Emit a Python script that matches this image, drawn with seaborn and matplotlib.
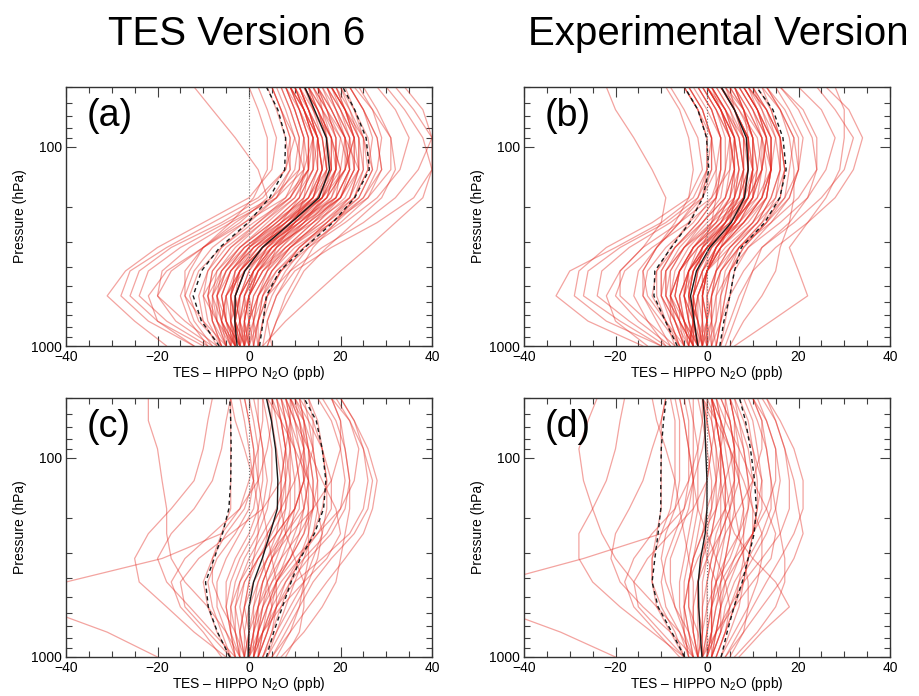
import numpy as np
import pandas as pd
import matplotlib
matplotlib.use("Agg")
import matplotlib.pyplot as plt
import matplotlib.ticker as mticker
import seaborn as sns

sns.set_style("ticks")
plt.rcParams['font.family'] = ['Liberation Sans', 'DejaVu Sans']
plt.rcParams['mathtext.fontset'] = 'custom'
plt.rcParams['mathtext.rm'] = 'Liberation Sans'
plt.rcParams['text.color'] = 'black'
plt.rcParams['axes.labelcolor'] = 'black'
plt.rcParams['xtick.labelcolor'] = 'black'
plt.rcParams['ytick.labelcolor'] = 'black'

# pressure levels (hPa), bottom to top
pressure = [1000, 750, 560, 420, 320, 240, 180, 130, 90, 65, 50]

# panel (a): TES V6, all profiles
mean_a = [-2.6, -3.1, -3.0, -0.9, 2.9, 9.2, 15.3, 17.6, 16.9, 14.3, 12.2]
lo_a = [-6.5, -10.4, -12.2, -10.4, -6.4, -0.2, 4.5, 7.8, 8.0, 6.3, 3.8]
hi_a = [2.3, 3.1, 3.8, 6.7, 12.2, 18.3, 23.1, 26.3, 25.6, 23.1, 20.5]
profiles_a = [
    [-2, -3, -2, 0, 4, 10, 16, 18, 17, 15, 13],
    [2, 3, 5, 8, 12, 18, 24, 27, 26, 23, 20],
    [-7, -10, -11, -9, -6, 0, 6, 9, 8, 6, 4],
    [0, 0, 1, 4, 6, 10, 12, 13, 12, 10, 8],
    [-5, -7, -7, -4, 1, 10, 19, 22, 22, 19, 17],
    [4, 6, 9, 12, 17, 23, 29, 32, 31, 28, 25],
    [-9, -13, -15, -13, -10, -4, 1, 4, 4, 2, 0],
    [-12, -22, -28, -26, -18, -8, 2, 8, 10, 8, 6],
    [-18, -25, -31, -27, -20, -10, 0, 5, 6, 4, 2],
    [5, 4, 6, 10, 18, 28, 36, 40, 38, 34, 30],
    [1, 2, 4, 9, 16, 25, 32, 37, 40, 36, 32],
    [-4, -6, -5, -1, 5, 14, 22, 24, 21, 17, 14],
    [-1, -1, 0, 3, 8, 14, 19, 20, 18, 15, 12],
    [-3, -5, -6, -4, 0, 6, 12, 15, 14, 12, 10],
    [-6, -9, -10, -7, -2, 5, 11, 14, 14, 11, 9],
    [0, 1, 2, 5, 9, 15, 20, 22, 21, 19, 17],
    [-2, -2, -1, 2, 7, 13, 18, 21, 23, 21, 18],
    [-5, -8, -9, -6, -1, 7, 15, 19, 20, 17, 14],
    [3, 4, 6, 9, 13, 19, 25, 28, 29, 27, 24],
    [-8, -12, -14, -12, -8, -1, 6, 10, 11, 9, 7],
    [-1, -3, -4, -2, 3, 11, 18, 20, 18, 14, 11],
    [-4, -4, -2, 1, 5, 11, 17, 21, 21, 18, 16],
    [1, 0, -1, 1, 4, 9, 14, 16, 15, 12, 9],
    [-7, -14, -20, -19, -13, -4, 6, 12, 14, 12, 9],
    [-3, -7, -10, -9, -5, 2, 9, 13, 13, 11, 8],
    [2, 2, 3, 6, 11, 17, 22, 24, 23, 20, 18],
    [-2, -4, -5, -3, 2, 9, 16, 20, 21, 18, 15],
    [-5, -10, -14, -14, -10, -3, 5, 9, 9, 7, 5],
    [0, -1, 0, 3, 9, 17, 24, 27, 25, 21, 18],
    [-3, -3, -2, 0, 3, 7, 11, 12, 10, 7, 5],
    [-9, -18, -24, -22, -15, -5, 5, 11, 12, 10, 8],
    [4, 6, 8, 11, 14, 19, 23, 25, 24, 22, 20],
    [-1, 1, 3, 7, 13, 21, 28, 33, 35, 32, 28],
    [-6, -8, -8, -5, 0, 8, 16, 21, 23, 21, 19],
    [-2, -5, -7, -6, -2, 5, 13, 17, 16, 13, 10],
    [-4, -2, 0, 3, 7, 12, 16, 17, 16, 14, 13],
    [-12, -20, -22, -18, -10, -2, 4, 2, -3, -8, -12],
    [3, 8, 14, 20, 26, 32, 38, 40, 40, 38, 34],
    [-1, 0, 2, 6, 12, 20, 26, 29, 28, 25, 22],
    [-3, -6, -8, -7, -3, 3, 10, 14, 15, 13, 11],
    [-1, -2, -2, 1, 5, 11, 17, 19, 18, 16, 14],
    [-3, -4, -4, -2, 2, 8, 14, 17, 16, 13, 11],
    [0, -1, -1, 1, 5, 12, 19, 22, 21, 18, 15],
    [-4, -6, -7, -5, -1, 6, 13, 16, 15, 12, 9],
    [-2, -1, 0, 2, 6, 12, 17, 19, 19, 17, 15],
    [1, 1, 2, 4, 8, 14, 20, 23, 23, 21, 19],
    [-5, -7, -8, -6, -2, 4, 10, 13, 13, 11, 9],
    [-1, -3, -3, -1, 3, 9, 15, 18, 17, 14, 12],
    [-3, -5, -5, -2, 3, 11, 19, 22, 20, 16, 13],
    [2, 1, 0, 1, 4, 10, 16, 19, 19, 17, 15],
    [-6, -8, -9, -8, -4, 3, 9, 12, 12, 10, 8],
    [-2, -3, -2, 1, 6, 13, 20, 23, 22, 19, 16],
    [0, 0, 0, 2, 5, 10, 15, 17, 17, 16, 15],
    [-4, -7, -9, -8, -4, 2, 8, 11, 11, 9, 7],
    [-1, -2, -1, 2, 8, 16, 23, 26, 25, 22, 19],
    [-3, -4, -3, -1, 3, 8, 13, 15, 15, 13, 11],
    [1, 2, 3, 5, 9, 16, 22, 25, 25, 23, 21],
    [-2, -5, -6, -4, 1, 8, 14, 16, 15, 13, 11],
    [-5, -6, -5, -2, 3, 10, 17, 21, 22, 20, 17],
    [-2, -2, -3, -2, 1, 7, 13, 16, 17, 15, 13],
    [-8, -16, -20, -17, -10, -1, 8, 13, 14, 12, 10],
    [0, 2, 4, 7, 11, 17, 23, 26, 27, 25, 22],
    [-3, -3, -4, -3, 0, 5, 11, 14, 14, 12, 10],
    [-1, 0, 1, 4, 9, 15, 21, 24, 24, 21, 18],
    [-4, -5, -6, -4, 0, 7, 14, 18, 18, 15, 12],
    [-2, -4, -4, -2, 2, 9, 16, 19, 19, 16, 13],
    [2, 3, 4, 7, 11, 18, 25, 29, 28, 25, 22],
    [-6, -11, -13, -11, -6, 1, 9, 13, 13, 11, 9],
    [-1, -1, 0, 2, 6, 13, 20, 23, 23, 20, 17],
    [-3, -6, -7, -5, -1, 6, 12, 15, 15, 13, 11],
    [-10, -20, -26, -24, -17, -6, 3, 8, 9, 7, 5],
    [-2, 0, 2, 5, 10, 18, 26, 31, 31, 27, 23],
    [-4, -3, -3, -1, 3, 9, 14, 16, 15, 12, 10],
    [0, -2, -3, -1, 4, 12, 20, 24, 24, 21, 18],
    [-2, -3, -4, -3, 1, 8, 15, 18, 18, 15, 12],
]

# panel (b): experimental version, all profiles
mean_b = [-2.0, -2.8, -3.6, -2.3, 0.6, 5.3, 8.2, 9.0, 8.6, 6.0, 3.1]
lo_b = [-6.5, -9.1, -11.6, -11.4, -7.8, -3.8, -0.9, 0.4, -0.1, -2.0, -4.9]
hi_b = [2.8, 3.7, 5.0, 6.0, 7.5, 12.6, 15.9, 17.3, 16.6, 14.4, 10.8]
profiles_b = [
    [-2, -3, -3, -2, 1, 6, 9, 10, 9, 6, 3],
    [2, 3, 4, 5, 8, 13, 16, 17, 16, 14, 11],
    [-7, -9, -11, -11, -8, -4, -1, 0, 0, -2, -5],
    [0, 1, 1, 2, 3, 5, 6, 6, 5, 2, -1],
    [-5, -7, -8, -6, -2, 5, 11, 14, 14, 11, 8],
    [4, 6, 8, 10, 12, 18, 22, 24, 23, 20, 16],
    [-9, -13, -16, -15, -11, -7, -4, -3, -4, -6, -9],
    [-14, -26, -33, -30, -20, -10, -3, 0, 1, -1, -4],
    [-10, -22, -29, -28, -22, -12, -4, -1, -2, -5, -8],
    [3, 5, 7, 10, 15, 22, 28, 32, 34, 31, 26],
    [1, 3, 5, 8, 12, 19, 25, 30, 32, 28, 24],
    [-3, -5, -6, -4, 0, 8, 13, 14, 12, 8, 4],
    [-1, -1, -1, 0, 3, 7, 10, 11, 10, 8, 5],
    [-4, -5, -7, -6, -3, 2, 5, 6, 5, 3, 0],
    [-6, -9, -12, -11, -7, -1, 4, 6, 6, 3, 0],
    [0, 0, 0, 2, 5, 10, 13, 14, 13, 11, 8],
    [-2, -3, -2, 0, 3, 8, 12, 14, 15, 12, 9],
    [-5, -7, -10, -9, -5, 2, 8, 11, 12, 9, 6],
    [3, 4, 5, 6, 9, 14, 18, 20, 21, 18, 15],
    [-8, -11, -14, -14, -11, -6, -1, 1, 1, -1, -4],
    [-1, -2, -4, -3, 0, 6, 10, 10, 8, 4, 0],
    [-4, -3, -3, -1, 2, 6, 10, 12, 12, 10, 7],
    [1, 0, -1, -1, 1, 4, 6, 7, 6, 3, 0],
    [-7, -13, -19, -19, -14, -6, 1, 5, 6, 4, 1],
    [-3, -6, -9, -9, -6, -1, 4, 6, 5, 2, -1],
    [2, 3, 4, 5, 7, 12, 15, 16, 15, 13, 10],
    [-2, -4, -5, -4, -1, 4, 9, 12, 13, 10, 7],
    [-5, -9, -13, -14, -11, -6, -2, 0, 0, -2, -5],
    [0, 0, -1, 0, 4, 10, 15, 17, 16, 13, 9],
    [-3, -3, -3, -2, -1, 1, 2, 2, 1, -2, -5],
    [-9, -17, -24, -23, -17, -8, -1, 2, 3, 1, -2],
    [5, 8, 12, 15, 16, 18, 19, 19, 18, 16, 13],
    [-1, 1, 2, 5, 9, 16, 22, 26, 28, 25, 20],
    [-6, -8, -8, -6, -3, 3, 9, 12, 13, 11, 9],
    [-2, -5, -8, -8, -5, 0, 6, 8, 7, 4, 1],
    [-4, -3, -2, 0, 2, 6, 8, 9, 8, 6, 5],
    [-13, -20, -22, -19, -14, -10, -9, -12, -16, -20, -22],
    [6, 14, 22, 20, 18, 22, 26, 29, 30, 30, 28],
    [-1, 0, 1, 3, 7, 13, 18, 20, 19, 16, 12],
    [-3, -6, -9, -9, -5, 1, 7, 9, 9, 6, 3],
    [-1, -2, -3, -1, 2, 7, 10, 11, 10, 8, 5],
    [-3, -4, -5, -3, 0, 4, 7, 8, 8, 5, 2],
    [0, -1, -2, 0, 3, 8, 12, 13, 12, 9, 6],
    [-4, -6, -8, -6, -3, 2, 5, 7, 6, 3, 0],
    [-2, -1, -1, 0, 2, 6, 9, 10, 10, 8, 6],
    [1, 1, 1, 2, 5, 10, 13, 14, 14, 12, 10],
    [-5, -7, -9, -8, -5, -1, 3, 4, 4, 2, -1],
    [-1, -3, -4, -3, 0, 5, 8, 9, 9, 6, 3],
    [-3, -5, -6, -4, 0, 7, 11, 12, 11, 7, 3],
    [2, 1, 0, 0, 2, 6, 9, 10, 10, 8, 6],
    [-6, -8, -10, -10, -7, -2, 2, 3, 3, 1, -2],
    [-2, -3, -3, -1, 3, 9, 13, 14, 13, 10, 7],
    [0, 0, -1, 0, 2, 6, 8, 9, 9, 8, 6],
    [-4, -7, -10, -10, -7, -2, 2, 3, 3, 0, -3],
    [-1, -2, -2, 0, 5, 11, 16, 17, 16, 13, 10],
    [-3, -4, -4, -3, 0, 4, 7, 8, 7, 5, 2],
    [1, 2, 2, 3, 6, 11, 14, 16, 16, 14, 12],
    [-2, -5, -7, -6, -2, 4, 8, 8, 7, 4, 1],
    [-5, -6, -6, -4, 0, 6, 10, 12, 13, 11, 8],
    [-2, -2, -4, -4, -2, 3, 6, 8, 8, 6, 4],
    [-8, -15, -20, -18, -12, -4, 2, 4, 5, 3, 0],
    [0, 2, 3, 5, 8, 13, 17, 18, 19, 16, 13],
    [-3, -3, -5, -5, -3, 1, 4, 5, 5, 3, 1],
    [-1, 0, 0, 2, 6, 11, 14, 16, 16, 13, 9],
    [-4, -5, -7, -6, -3, 3, 7, 9, 9, 6, 3],
    [-2, -4, -5, -4, -1, 5, 9, 10, 10, 7, 4],
    [2, 3, 3, 4, 7, 12, 17, 20, 20, 17, 13],
    [-6, -10, -14, -13, -9, -3, 1, 3, 3, 1, -2],
    [-1, -1, -1, 0, 3, 8, 12, 14, 14, 11, 8],
    [-3, -6, -8, -7, -4, 1, 5, 6, 6, 4, 1],
    [-10, -19, -27, -26, -19, -9, -2, 1, 1, -1, -4],
    [-2, 0, 1, 3, 7, 14, 20, 24, 24, 21, 16],
    [-4, -3, -4, -3, -1, 3, 6, 7, 6, 3, 0],
    [0, -2, -3, -2, 1, 7, 12, 14, 14, 11, 8],
    [-2, -3, -5, -4, -1, 4, 8, 10, 9, 6, 3],
]

# panel (c): TES V6, subset
mean_c = [-0.2, 0.0, 0.0, 1.0, 2.9, 4.6, 6.2, 6.3, 5.8, 4.9, 3.8]
lo_c = [-4.2, -6.9, -8.9, -9.5, -7.6, -5.8, -4.4, -4.0, -3.9, -4.0, -4.2]
hi_c = [3.8, 5.4, 7.3, 9.2, 11.2, 14.3, 16.3, 16.8, 16.0, 14.7, 12.0]
profiles_c = [
    [0, 1, 2, 3, 5, 7, 8, 8, 7, 6, 5],
    [3, 6, 9, 12, 14, 16, 17, 17, 16, 14, 11],
    [-4, -7, -9, -10, -8, -6, -4, -4, -4, -4, -4],
    [2, 4, 6, 9, 13, 18, 21, 22, 21, 19, 16],
    [-2, -3, -4, -2, 0, 3, 6, 8, 9, 9, 8],
    [5, 9, 13, 17, 21, 25, 27, 28, 26, 23, 20],
    [-5, -12, -18, -24, -25, -22, -17, -12, -10, -9, -8],
    [-3, -8, -13, -18, -20, -17, -12, -8, -6, -5, -4],
    [1, 2, 4, 7, 11, 15, 18, 18, 16, 13, 10],
    [-1, -2, -1, 1, 4, 8, 12, 13, 12, 10, 8],
    [4, 7, 10, 13, 15, 16, 15, 13, 10, 7, 4],
    [0, -1, -2, -1, 2, 6, 10, 12, 14, 14, 13],
    [-6, -10, -15, -17, -14, -8, -2, 2, 4, 5, 5],
    [2, 3, 5, 6, 8, 10, 12, 13, 13, 12, 11],
    [7, 12, 16, 19, 20, 21, 22, 22, 21, 20, 18],
    [-20, -31, -46, -40, -19, -6, -2, 0, 2, 3, 3],
    [-1, -3, -6, -8, -8, -5, -1, 1, 1, 0, -1],
    [1, 3, 6, 10, 16, 22, 25, 26, 25, 23, 20],
    [3, 5, 6, 6, 5, 4, 3, 2, 1, 0, -1],
    [-2, -5, -9, -14, -17, -18, -18, -19, -20, -22, -22],
    [0, 1, 3, 6, 10, 15, 20, 23, 24, 22, 19],
    [-3, -4, -5, -4, -2, 1, 3, 4, 3, 2, 1],
    [8, 11, 12, 12, 10, 8, 7, 7, 8, 9, 9],
    [2, 4, 5, 4, 3, 4, 7, 10, 12, 12, 11],
    [-1, 0, 2, 5, 9, 12, 13, 13, 11, 9, 7],
    [1, 2, 2, 3, 5, 9, 14, 18, 20, 20, 18],
    [-4, -9, -14, -15, -11, -4, 3, 7, 8, 7, 6],
    [5, 8, 11, 14, 18, 23, 26, 27, 25, 22, 18],
    [-2, -2, -1, 0, 1, 2, 2, 1, -1, -3, -4],
    [0, 3, 7, 12, 17, 20, 19, 16, 13, 10, 8],
    [1, 2, 3, 5, 7, 9, 10, 10, 9, 8, 7],
    [-1, -1, 0, 2, 4, 6, 7, 7, 6, 5, 4],
    [2, 3, 4, 6, 9, 12, 14, 14, 13, 11, 9],
    [-2, -4, -5, -5, -3, 0, 2, 3, 3, 2, 2],
    [0, 1, 1, 2, 4, 7, 10, 12, 12, 11, 10],
    [3, 5, 7, 9, 11, 13, 14, 14, 13, 12, 10],
    [-3, -5, -7, -7, -5, -2, 1, 2, 2, 1, 0],
    [1, 1, 2, 4, 7, 11, 14, 15, 14, 12, 9],
    [-1, -2, -3, -2, 1, 4, 7, 8, 8, 7, 6],
    [4, 6, 8, 10, 12, 14, 15, 15, 14, 13, 12],
    [0, 0, -1, 0, 2, 5, 8, 9, 9, 8, 7],
    [2, 2, 3, 4, 6, 8, 9, 9, 8, 7, 5],
    [-2, -3, -3, -1, 2, 6, 10, 12, 12, 11, 9],
    [1, 3, 5, 8, 11, 14, 16, 17, 16, 15, 13],
    [-4, -6, -8, -9, -7, -3, 0, 1, 0, -1, -2],
    [0, 2, 4, 6, 9, 11, 12, 11, 10, 9, 8],
    [2, 4, 6, 8, 12, 17, 20, 21, 20, 18, 15],
    [-1, 0, 1, 3, 5, 8, 11, 11, 10, 8, 6],
    [6, 9, 11, 12, 13, 13, 13, 12, 11, 10, 9],
    [-3, -4, -4, -3, -1, 2, 4, 5, 5, 4, 3],
]

# panel (d): experimental version, subset
mean_d = [-1.1, -1.5, -1.8, -1.9, -1.4, -0.4, 0.0, 0.0, -0.3, -0.5, -0.9]
lo_d = [-4.9, -7.7, -10.7, -12.0, -11.4, -10.7, -10.1, -10.1, -10.0, -9.5, -8.9]
hi_d = [3.1, 4.4, 5.9, 7.7, 9.0, 10.3, 10.8, 10.4, 9.5, 8.4, 7.1]
profiles_d = [
    [-1, -1, -1, -1, 0, 1, 2, 2, 1, 0, -1],
    [2, 4, 6, 8, 9, 10, 11, 11, 10, 9, 7],
    [-5, -8, -11, -12, -12, -11, -10, -10, -10, -10, -9],
    [1, 3, 5, 7, 10, 13, 15, 16, 15, 13, 11],
    [-3, -4, -5, -4, -3, -2, -1, 0, 1, 2, 1],
    [4, 8, 12, 16, 19, 21, 20, 19, 17, 15, 13],
    [-5, -12, -19, -25, -28, -28, -25, -22, -20, -19, -18],
    [-3, -8, -14, -19, -21, -20, -17, -14, -12, -10, -9],
    [0, 1, 2, 4, 7, 10, 12, 12, 10, 8, 6],
    [-2, -3, -3, -2, 0, 3, 5, 6, 5, 3, 1],
    [3, 6, 9, 11, 12, 12, 10, 8, 5, 2, -1],
    [-1, -2, -4, -4, -3, -1, 2, 4, 6, 6, 5],
    [-6, -11, -16, -18, -16, -12, -7, -4, -2, -1, -1],
    [1, 2, 3, 3, 4, 5, 6, 6, 6, 5, 4],
    [6, 11, 15, 17, 17, 16, 15, 14, 13, 12, 10],
    [-20, -32, -47, -46, -27, -10, -5, -3, -1, 0, 0],
    [-2, -4, -7, -9, -10, -9, -7, -6, -6, -6, -7],
    [0, 2, 5, 8, 12, 16, 18, 18, 17, 15, 12],
    [2, 4, 5, 4, 2, 0, -2, -3, -4, -5, -6],
    [-3, -6, -11, -16, -20, -23, -25, -27, -28, -26, -24],
    [-1, 0, 1, 3, 6, 10, 13, 15, 15, 13, 10],
    [-4, -5, -6, -6, -5, -4, -3, -3, -4, -5, -6],
    [7, 12, 18, 15, 10, 6, 4, 3, 3, 4, 4],
    [1, 3, 3, 2, 0, -1, 0, 2, 3, 3, 2],
    [-2, -1, 0, 2, 5, 7, 8, 7, 5, 3, 1],
    [0, 1, 1, 1, 2, 4, 7, 10, 12, 12, 10],
    [-5, -10, -15, -16, -13, -8, -3, 0, 1, 0, -1],
    [4, 7, 10, 13, 16, 19, 21, 21, 19, 16, 13],
    [-2, -3, -3, -3, -4, -5, -6, -7, -9, -11, -12],
    [-1, 2, 6, 10, 14, 15, 13, 10, 7, 4, 2],
    [0, 1, 1, 2, 3, 4, 4, 4, 3, 2, 1],
    [-2, -2, -2, -2, -1, 0, 1, 1, 0, -1, -2],
    [1, 2, 3, 4, 6, 8, 9, 9, 8, 6, 5],
    [-3, -5, -7, -8, -8, -6, -4, -3, -3, -3, -3],
    [-1, 0, 0, 0, 1, 3, 5, 7, 7, 6, 5],
    [2, 4, 6, 7, 8, 8, 8, 7, 6, 5, 3],
    [-4, -6, -9, -10, -9, -7, -5, -4, -4, -4, -5],
    [0, 0, 1, 2, 4, 7, 9, 10, 9, 7, 5],
    [-2, -3, -4, -4, -3, -1, 1, 2, 2, 1, 1],
    [3, 5, 7, 8, 9, 10, 10, 9, 8, 7, 6],
    [-1, -1, -2, -2, -1, 1, 2, 3, 3, 2, 1],
    [1, 1, 1, 1, 2, 3, 3, 3, 2, 1, -1],
    [-3, -4, -5, -4, -2, 1, 4, 6, 6, 5, 3],
    [0, 2, 3, 5, 7, 10, 11, 12, 11, 10, 8],
    [-5, -7, -10, -12, -12, -10, -8, -7, -7, -7, -8],
    [-1, 1, 2, 3, 4, 5, 5, 4, 3, 2, 1],
    [1, 3, 4, 6, 9, 12, 14, 14, 13, 11, 9],
    [-2, -1, -1, 0, 1, 2, 4, 4, 3, 2, 0],
    [5, 8, 9, 9, 8, 7, 6, 5, 4, 3, 2],
    [-4, -5, -5, -5, -4, -3, -2, -2, -2, -3, -4],
]

panel_labels = ['(a)', '(b)', '(c)', '(d)']
column_titles = ['TES Version 6', 'Experimental Version']

RED = '#e3261d'


def long_profiles(profiles):
    rows = []
    for k, prof in enumerate(profiles):
        for p, v in zip(pressure, prof):
            rows.append({'profile': k, 'pressure': p, 'diff': v})
    return pd.DataFrame(rows)


def draw_panel(ax, profiles, mean, lo, hi, label):
    df = long_profiles(profiles)
    sns.lineplot(data=df, x='diff', y='pressure', units='profile', estimator=None,
                 sort=False, orient='y', color=RED, alpha=0.42, lw=0.9,
                 legend=False, ax=ax)
    stats = pd.DataFrame({'pressure': pressure, 'mean': mean, 'lo': lo, 'hi': hi})
    ax.axvline(0, color='0.45', ls=':', lw=0.8, zorder=3)
    sns.lineplot(data=stats, x='mean', y='pressure', sort=False, orient='y',
                 color='#1a1a1a', lw=1.0, ax=ax)
    for col in ['lo', 'hi']:
        sns.lineplot(data=stats, x=col, y='pressure', sort=False, orient='y',
                     color='#1a1a1a', lw=1.0, ax=ax, linestyle=(0, (3, 2.5)))
    ax.set_yscale('log')
    ax.set_ylim(1000, 50)
    ax.set_xlim(-40, 40)
    ax.yaxis.set_major_locator(mticker.FixedLocator([100, 1000]))
    ax.yaxis.set_major_formatter(mticker.FixedFormatter(['100', '1000']))
    ax.yaxis.set_minor_locator(mticker.LogLocator(base=10, subs=np.arange(2, 10)))
    ax.yaxis.set_minor_formatter(mticker.NullFormatter())
    ax.xaxis.set_major_locator(mticker.MultipleLocator(20))
    ax.xaxis.set_minor_locator(mticker.MultipleLocator(5))
    ax.tick_params(which='both', direction='in', top=True, right=True,
                   labelsize=10, width=0.8, color='0.25')
    ax.tick_params(which='major', length=7, pad=3)
    ax.tick_params(which='minor', length=4)
    for sp in ax.spines.values():
        sp.set_linewidth(1.0)
        sp.set_color('0.2')
    ax.set_xlabel('TES \u2013 HIPPO N$_2$O (ppb)', fontsize=10, labelpad=0)
    ax.set_ylabel('Pressure (hPa)', fontsize=10, labelpad=3)
    ax.text(0.055, 0.85, label, transform=ax.transAxes, fontsize=27,
            va='baseline', ha='left')


fig = plt.figure(figsize=(9.19, 6.96), dpi=100)
W, H = 919, 696
boxes = [(66, 87), (524, 87), (66, 398), (524, 398)]
data = [
    (profiles_a, mean_a, lo_a, hi_a),
    (profiles_b, mean_b, lo_b, hi_b),
    (profiles_c, mean_c, lo_c, hi_c),
    (profiles_d, mean_d, lo_d, hi_d),
]
for (x0, y0), (prof, m, lo, hi), lab in zip(boxes, data, panel_labels):
    ax = fig.add_axes([x0 / W, 1 - (y0 + 259) / H, 366 / W, 259 / H])
    draw_panel(ax, prof, m, lo, hi, lab)

fig.text(108 / W, 1 - 45 / H, column_titles[0], fontsize=29, ha='left', va='baseline')
fig.text(528 / W, 1 - 45 / H, column_titles[1], fontsize=29, ha='left', va='baseline')

fig.savefig('out.png', dpi=100)
